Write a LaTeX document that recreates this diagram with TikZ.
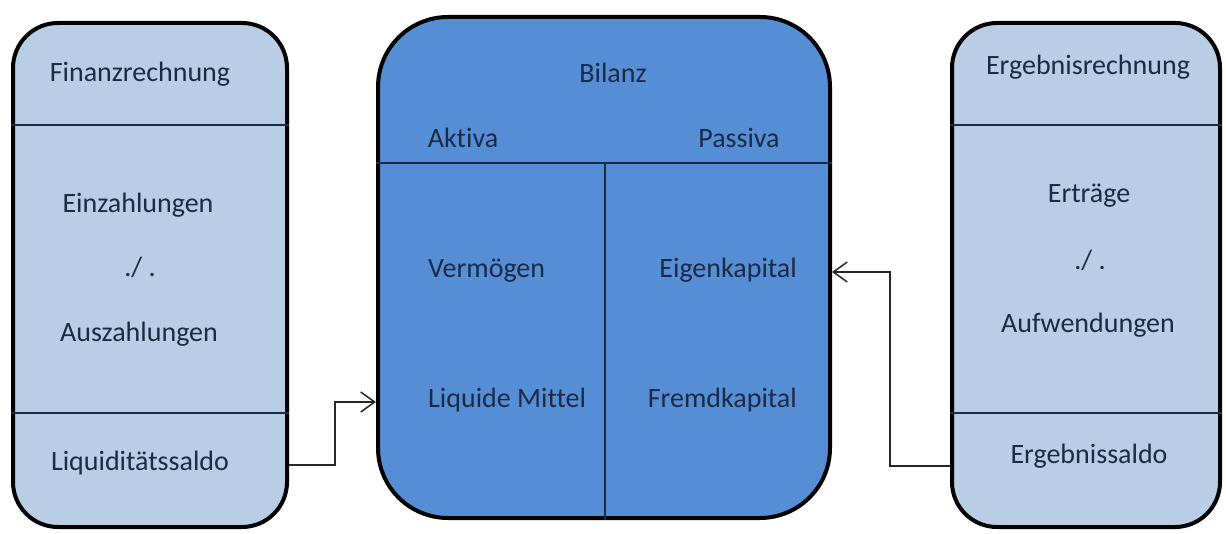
\documentclass[tikz,border=0pt]{standalone}
\usepackage{fontspec}
\setmainfont{Carlito}[Ligatures=NoCommon]
\usetikzlibrary{positioning,arrows.meta,calc}
\definecolor{paleblue}{HTML}{B9CDE5}
\definecolor{midblue}{HTML}{558ED5}
\definecolor{inknavy}{HTML}{1B2A47}
\tikzstyle{signal}=[arrows={-Straight Barb[length=14pt,width=20pt]},draw=black!85,line width=1.5pt]
\tikzstyle{account}=[draw=black,line width=4pt,rounded corners=45pt,inner sep=0pt]
\tikzstyle{sideaccount}=[account,fill=paleblue,minimum width=274pt,minimum height=504pt]
\tikzstyle{balance}=[account,fill=midblue,rounded corners=70pt,minimum width=452pt,minimum height=501pt]
\tikzstyle{divider}=[draw=inknavy,line width=1.5pt]
\tikzstyle{entry}=[text=inknavy,font=\fontsize{28}{33}\selectfont,inner sep=0pt,anchor=base]

\begin{document}
\begin{tikzpicture}[x=1pt,y=-1pt]
    \useasboundingbox (0,0) rectangle (1226,534);

    % the three accounts
    \node[sideaccount] (fin) at (150,275) {};
    \node[balance] (bil) at (604,267.5) {};
    \node[sideaccount, minimum width=268pt] (erg) at (1086,275) {};

    % dividers
    \draw[divider] (fin.west |- 0,125) -- (fin.east |- 0,125);
    \draw[divider] (fin.west |- 0,413) -- (fin.east |- 0,413);
    \draw[divider] (erg.west |- 0,125) -- (erg.east |- 0,125);
    \draw[divider] (erg.west |- 0,413) -- (erg.east |- 0,413);
    \draw[divider] (bil.west |- 0,163) -- (bil.east |- 0,163);
    \draw[divider] (605,163) -- (605,163 |- bil.south);

    % Finanzrechnung
    \node[entry] (finhead) at (140,82) {Finanzrechnung};
    \node[entry] (ein) at (138,213) {Einzahlungen};
    \node[entry] (finminus) at (140,277) {./ .};
    \node[entry] (aus) at (139,342) {Auszahlungen};
    \node[entry] (liq) at (140,470) {Liquiditätssaldo};

    % Bilanz
    \node[entry] (bilhead) at (613,83) {Bilanz};
    \node[entry] (akt) at (463,148) {Aktiva};
    \node[entry] (pas) at (739,148) {Passiva};
    \node[entry, anchor=base west] (verm) at (428,278) {Vermögen};
    \node[entry, anchor=base west] (lm) at (428,407) {Liquide Mittel};
    \node[entry, anchor=base east] (ek) at (797,278) {Eigenkapital};
    \node[entry, anchor=base east] (fk) at (797,407) {Fremdkapital};

    % Ergebnisrechnung
    \node[entry] (erghead) at (1088,75) {Ergebnisrechnung};
    \node[entry] (ertr) at (1089,203) {Erträge};
    \node[entry] (ergminus) at (1090,270) {./ .};
    \node[entry] (aufw) at (1088,333) {Aufwendungen};
    \node[entry] (ergsaldo) at (1089,463) {Ergebnissaldo};

    % arrows
    \draw[signal] (fin.east |- 0,465) -- ++(46,0) |- (bil.west |- 0,402);
    \draw[signal] (erg.west |- 0,466) -- ++(-60,0) |- (bil.east |- 0,272);

\end{tikzpicture}
\end{document}
